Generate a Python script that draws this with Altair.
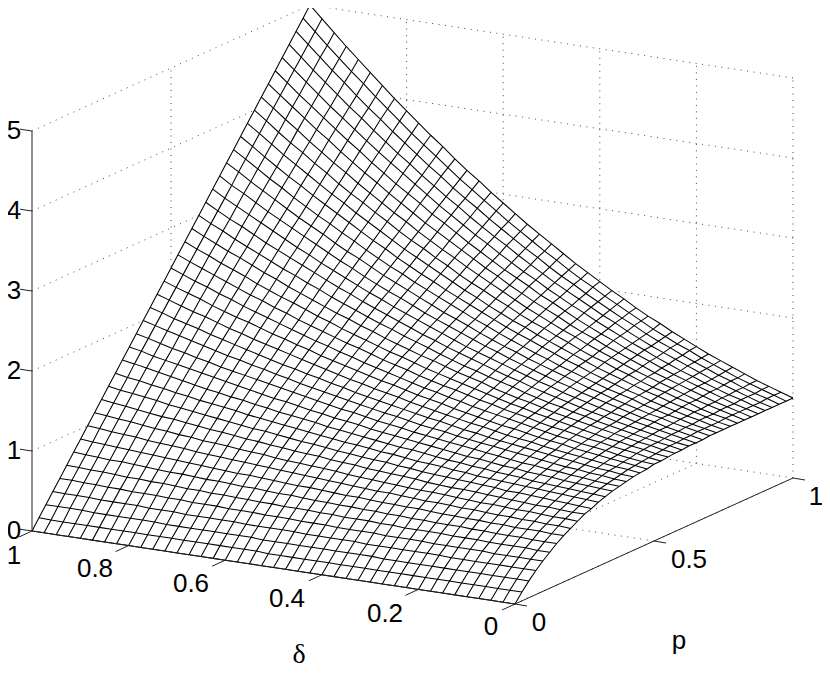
import altair as alt, pandas as pd

p_values=[0,.025,.05,.075,.1,.125,.15,.175,.2,.225,.25,.275,.3,.325,.35,.375,.4,.425,.45,.475,.5,.525,.55,.575,.6,.625,.65,.675,.7,.725,.75,.775,.8,.825,.85,.875,.9,.925,.95,.975,1]
delta_values=list(p_values)
# surface height: one row per delta, one value per p
z_rows=[
[0,.11,.21,.30,.38,.45,.52,.58,.63,.68,.73,.76,.80,.83,.86,.88,.90,.92,.93,.94,.96,.96,.97,.98,.98,.99,.99,.99,1,1,1,1,1,1,1,1,1,1,1,1,1],
[0,.11,.21,.30,.38,.45,.52,.58,.64,.69,.73,.77,.81,.84,.87,.89,.91,.93,.95,.96,.97,.98,.99,1.00,1.01,1.01,1.02,1.02,1.03,1.03,1.03,1.03,1.04,1.04,1.04,1.04,1.04,1.04,1.05,1.05,1.05],
[0,.11,.21,.30,.38,.46,.52,.59,.64,.69,.74,.78,.82,.85,.88,.90,.93,.95,.96,.98,.99,1.01,1.02,1.03,1.03,1.04,1.05,1.05,1.06,1.06,1.07,1.07,1.07,1.08,1.08,1.08,1.09,1.09,1.09,1.10,1.10],
[0,.11,.21,.30,.38,.46,.53,.59,.65,.70,.75,.79,.83,.86,.89,.92,.94,.96,.98,1.00,1.01,1.03,1.04,1.05,1.06,1.07,1.08,1.08,1.09,1.10,1.10,1.11,1.11,1.12,1.12,1.13,1.13,1.14,1.14,1.15,1.15],
[0,.11,.21,.30,.38,.46,.53,.59,.65,.71,.75,.80,.84,.87,.90,.93,.96,.98,1.00,1.02,1.04,1.05,1.07,1.08,1.09,1.10,1.11,1.12,1.13,1.13,1.14,1.15,1.16,1.16,1.17,1.18,1.18,1.19,1.20,1.20,1.21],
[0,.11,.21,.30,.39,.46,.53,.60,.66,.71,.76,.81,.85,.88,.92,.95,.97,1.00,1.02,1.04,1.06,1.08,1.09,1.11,1.12,1.13,1.14,1.15,1.16,1.17,1.18,1.19,1.20,1.21,1.22,1.23,1.23,1.24,1.25,1.26,1.27],
[0,.11,.21,.30,.39,.47,.54,.60,.66,.72,.77,.82,.86,.89,.93,.96,.99,1.02,1.04,1.06,1.08,1.10,1.12,1.14,1.15,1.16,1.18,1.19,1.20,1.21,1.22,1.24,1.25,1.26,1.27,1.28,1.29,1.30,1.31,1.32,1.33],
[0,.11,.21,.30,.39,.47,.54,.61,.67,.73,.78,.82,.87,.91,.94,.98,1.01,1.04,1.06,1.09,1.11,1.13,1.15,1.17,1.18,1.20,1.21,1.23,1.24,1.26,1.27,1.28,1.29,1.31,1.32,1.33,1.34,1.36,1.37,1.38,1.39],
[0,.11,.21,.31,.39,.47,.55,.61,.68,.73,.79,.84,.88,.92,.96,.99,1.03,1.06,1.08,1.11,1.13,1.16,1.18,1.20,1.22,1.23,1.25,1.27,1.28,1.30,1.31,1.33,1.34,1.36,1.37,1.39,1.40,1.42,1.43,1.45,1.46],
[0,.11,.21,.31,.39,.48,.55,.62,.68,.74,.80,.85,.89,.93,.97,1.01,1.05,1.08,1.11,1.13,1.16,1.18,1.21,1.23,1.25,1.27,1.29,1.31,1.33,1.34,1.36,1.38,1.40,1.41,1.43,1.45,1.46,1.48,1.50,1.51,1.53],
[0,.11,.21,.31,.40,.48,.55,.62,.69,.75,.81,.86,.90,.95,.99,1.03,1.07,1.10,1.13,1.16,1.19,1.21,1.24,1.26,1.29,1.31,1.33,1.35,1.37,1.39,1.41,1.43,1.45,1.47,1.49,1.51,1.53,1.54,1.56,1.58,1.60],
[0,.11,.21,.31,.40,.48,.56,.63,.70,.76,.81,.87,.92,.96,1.01,1.05,1.09,1.12,1.15,1.19,1.22,1.25,1.27,1.30,1.32,1.35,1.37,1.40,1.42,1.44,1.46,1.48,1.51,1.53,1.55,1.57,1.59,1.61,1.63,1.65,1.68],
[0,.11,.21,.31,.40,.48,.56,.64,.70,.77,.82,.88,.93,.98,1.02,1.07,1.11,1.14,1.18,1.21,1.25,1.28,1.31,1.34,1.36,1.39,1.42,1.44,1.47,1.49,1.52,1.54,1.56,1.59,1.61,1.64,1.66,1.68,1.71,1.73,1.75],
[0,.11,.22,.31,.40,.49,.57,.64,.71,.77,.83,.89,.95,.99,1.04,1.09,1.13,1.17,1.21,1.24,1.28,1.31,1.34,1.37,1.40,1.43,1.46,1.49,1.52,1.54,1.57,1.60,1.62,1.65,1.68,1.70,1.73,1.76,1.78,1.81,1.83],
[0,.11,.22,.31,.41,.49,.57,.65,.72,.78,.85,.90,.96,1.01,1.06,1.11,1.15,1.19,1.23,1.27,1.31,1.35,1.38,1.41,1.45,1.48,1.51,1.54,1.57,1.60,1.63,1.66,1.69,1.72,1.74,1.77,1.80,1.83,1.86,1.89,1.92],
[0,.11,.22,.32,.41,.50,.58,.65,.73,.79,.86,.92,.97,1.03,1.08,1.13,1.18,1.22,1.26,1.30,1.34,1.38,1.42,1.45,1.49,1.52,1.56,1.59,1.62,1.65,1.69,1.72,1.75,1.78,1.81,1.84,1.88,1.91,1.94,1.97,2.00],
[0,.11,.22,.32,.41,.50,.58,.66,.73,.80,.87,.93,.99,1.05,1.10,1.15,1.20,1.25,1.29,1.33,1.38,1.42,1.46,1.50,1.53,1.57,1.61,1.64,1.68,1.71,1.75,1.78,1.82,1.85,1.89,1.92,1.95,1.99,2.02,2.06,2.09],
[0,.11,.22,.32,.41,.50,.59,.67,.74,.81,.88,.95,1.01,1.06,1.12,1.17,1.22,1.27,1.32,1.37,1.41,1.46,1.50,1.54,1.58,1.62,1.66,1.70,1.73,1.77,1.81,1.85,1.88,1.92,1.96,2.00,2.03,2.07,2.11,2.14,2.18],
[0,.11,.22,.32,.42,.51,.59,.67,.75,.82,.89,.96,1.02,1.08,1.14,1.20,1.25,1.30,1.35,1.40,1.45,1.49,1.54,1.58,1.62,1.67,1.71,1.75,1.79,1.83,1.87,1.91,1.95,1.99,2.03,2.07,2.11,2.15,2.19,2.23,2.27],
[0,.11,.22,.32,.42,.51,.60,.68,.76,.83,.91,.97,1.04,1.10,1.16,1.22,1.28,1.33,1.38,1.43,1.48,1.53,1.58,1.63,1.67,1.72,1.76,1.81,1.85,1.90,1.94,1.98,2.03,2.07,2.11,2.16,2.20,2.24,2.28,2.33,2.37],
[0,.11,.22,.33,.42,.52,.60,.69,.77,.85,.92,.99,1.06,1.12,1.18,1.24,1.30,1.36,1.42,1.47,1.52,1.57,1.62,1.68,1.72,1.77,1.82,1.87,1.92,1.96,2.01,2.05,2.10,2.15,2.19,2.24,2.28,2.33,2.38,2.42,2.47],
[0,.11,.22,.33,.43,.52,.61,.70,.78,.86,.93,1.00,1.07,1.14,1.21,1.27,1.33,1.39,1.45,1.51,1.56,1.62,1.67,1.72,1.78,1.83,1.88,1.93,1.98,2.03,2.08,2.13,2.18,2.23,2.28,2.32,2.37,2.42,2.47,2.52,2.57],
[0,.12,.22,.33,.43,.52,.62,.70,.79,.87,.95,1.02,1.09,1.16,1.23,1.30,1.36,1.42,1.48,1.54,1.60,1.66,1.72,1.77,1.83,1.88,1.94,1.99,2.04,2.10,2.15,2.20,2.25,2.31,2.36,2.41,2.46,2.52,2.57,2.62,2.67],
[0,.12,.23,.33,.43,.53,.62,.71,.80,.88,.96,1.04,1.11,1.18,1.25,1.32,1.39,1.45,1.52,1.58,1.64,1.70,1.76,1.82,1.88,1.94,2.00,2.05,2.11,2.17,2.22,2.28,2.33,2.39,2.45,2.50,2.56,2.61,2.67,2.72,2.78],
[0,.12,.23,.33,.44,.53,.63,.72,.81,.89,.97,1.05,1.13,1.21,1.28,1.35,1.42,1.49,1.55,1.62,1.68,1.75,1.81,1.87,1.94,2.00,2.06,2.12,2.18,2.24,2.30,2.36,2.42,2.48,2.54,2.59,2.65,2.71,2.77,2.83,2.89],
[0,.12,.23,.34,.44,.54,.64,.73,.82,.90,.99,1.07,1.15,1.23,1.30,1.38,1.45,1.52,1.59,1.66,1.73,1.80,1.86,1.93,1.99,2.06,2.12,2.19,2.25,2.31,2.37,2.44,2.50,2.56,2.63,2.69,2.75,2.81,2.88,2.94,3.00],
[0,.12,.23,.34,.44,.54,.64,.74,.83,.92,1.00,1.09,1.17,1.25,1.33,1.41,1.48,1.56,1.63,1.70,1.77,1.84,1.91,1.98,2.05,2.12,2.19,2.25,2.32,2.39,2.45,2.52,2.59,2.65,2.72,2.79,2.85,2.92,2.98,3.05,3.12],
[0,.12,.23,.34,.45,.55,.65,.74,.84,.93,1.02,1.11,1.19,1.27,1.36,1.44,1.51,1.59,1.67,1.74,1.82,1.89,1.96,2.04,2.11,2.18,2.25,2.32,2.39,2.46,2.53,2.60,2.67,2.74,2.81,2.88,2.95,3.02,3.09,3.16,3.23],
[0,.12,.23,.34,.45,.55,.66,.75,.85,.94,1.03,1.12,1.21,1.30,1.38,1.47,1.55,1.63,1.71,1.79,1.86,1.94,2.02,2.09,2.17,2.25,2.32,2.39,2.47,2.54,2.62,2.69,2.76,2.84,2.91,2.99,3.06,3.13,3.21,3.28,3.35],
[0,.12,.23,.34,.45,.56,.66,.76,.86,.96,1.05,1.14,1.23,1.32,1.41,1.50,1.58,1.66,1.75,1.83,1.91,1.99,2.07,2.15,2.23,2.31,2.39,2.47,2.55,2.62,2.70,2.78,2.86,2.93,3.01,3.09,3.17,3.24,3.32,3.40,3.48],
[0,.12,.23,.35,.46,.56,.67,.77,.87,.97,1.07,1.16,1.26,1.35,1.44,1.53,1.62,1.70,1.79,1.88,1.96,2.04,2.13,2.21,2.30,2.38,2.46,2.54,2.62,2.71,2.79,2.87,2.95,3.03,3.11,3.19,3.28,3.36,3.44,3.52,3.60],
[0,.12,.24,.35,.46,.57,.68,.78,.88,.98,1.08,1.18,1.28,1.37,1.47,1.56,1.65,1.74,1.83,1.92,2.01,2.10,2.19,2.27,2.36,2.45,2.53,2.62,2.70,2.79,2.88,2.96,3.05,3.13,3.22,3.30,3.39,3.47,3.56,3.64,3.73],
[0,.12,.24,.35,.47,.58,.68,.79,.90,1.00,1.10,1.20,1.30,1.40,1.50,1.59,1.69,1.78,1.87,1.97,2.06,2.15,2.24,2.33,2.43,2.52,2.61,2.70,2.79,2.88,2.97,3.06,3.14,3.23,3.32,3.41,3.50,3.59,3.68,3.77,3.86],
[0,.12,.24,.36,.47,.58,.69,.80,.91,1.01,1.12,1.22,1.32,1.42,1.53,1.62,1.72,1.82,1.92,2.02,2.11,2.21,2.30,2.40,2.49,2.59,2.68,2.78,2.87,2.96,3.06,3.15,3.24,3.34,3.43,3.53,3.62,3.71,3.81,3.90,3.99],
[0,.12,.24,.36,.47,.59,.70,.81,.92,1.03,1.14,1.24,1.35,1.45,1.56,1.66,1.76,1.86,1.96,2.06,2.16,2.26,2.36,2.46,2.56,2.66,2.76,2.86,2.95,3.05,3.15,3.25,3.35,3.44,3.54,3.64,3.74,3.84,3.93,4.03,4.13],
[0,.12,.24,.36,.48,.59,.71,.82,.93,1.04,1.15,1.26,1.37,1.48,1.59,1.69,1.80,1.90,2.01,2.11,2.22,2.32,2.43,2.53,2.63,2.73,2.84,2.94,3.04,3.14,3.25,3.35,3.45,3.55,3.66,3.76,3.86,3.96,4.06,4.17,4.27],
[0,.12,.24,.36,.48,.60,.72,.83,.95,1.06,1.17,1.29,1.40,1.51,1.62,1.73,1.84,1.95,2.06,2.16,2.27,2.38,2.49,2.60,2.70,2.81,2.92,3.02,3.13,3.24,3.34,3.45,3.56,3.66,3.77,3.88,3.98,4.09,4.20,4.30,4.41],
[0,.12,.25,.37,.49,.61,.72,.84,.96,1.08,1.19,1.31,1.42,1.54,1.65,1.76,1.88,1.99,2.10,2.22,2.33,2.44,2.55,2.66,2.77,2.89,3.00,3.11,3.22,3.33,3.44,3.55,3.66,3.78,3.89,4.00,4.11,4.22,4.33,4.44,4.55],
[0,.12,.25,.37,.49,.61,.73,.85,.97,1.09,1.21,1.33,1.45,1.57,1.68,1.80,1.92,2.03,2.15,2.27,2.38,2.50,2.62,2.73,2.85,2.96,3.08,3.20,3.31,3.43,3.54,3.66,3.77,3.89,4.01,4.12,4.24,4.35,4.47,4.58,4.70],
[0,.12,.25,.37,.50,.62,.74,.86,.99,1.11,1.23,1.35,1.47,1.60,1.72,1.84,1.96,2.08,2.20,2.32,2.44,2.56,2.68,2.80,2.92,3.04,3.16,3.28,3.41,3.53,3.65,3.77,3.89,4.01,4.13,4.25,4.37,4.49,4.61,4.73,4.85],
[0,.125,.25,.375,.50,.625,.75,.875,1.00,1.125,1.25,1.375,1.50,1.625,1.75,1.875,2.00,2.125,2.25,2.375,2.50,2.625,2.75,2.875,3.00,3.125,3.25,3.375,3.50,3.625,3.75,3.875,4.00,4.125,4.25,4.375,4.50,4.625,4.75,4.875,5.00],
]
z_ticks=[0,1,2,3,4,5]
delta_ticks=[1,.8,.6,.4,.2,0]
p_ticks=[0,.5,1]

def X(p,d): return 515+278*p-483*d
def Y(p,d,z=0): return 604-126*p-73*d-80*z
def P(p,d,z=0): return (X(p,d),Y(p,d,z))

xs=alt.Scale(domain=[8,822],nice=False,zero=False)
ys=alt.Scale(domain=[669,8],nice=False,zero=False)
def L(rows,**kw):
    df=pd.DataFrame(rows,columns=['id','o','x','y'])
    return alt.Chart(df).mark_line(**kw).encode(x=alt.X('x:Q',scale=xs,axis=None),y=alt.Y('y:Q',scale=ys,axis=None),detail='id:N',order='o:Q')
def seg(i,a,b): return [(i,0,a[0],a[1]),(i,1,b[0],b[1])]

grid=[];n=0
for k in z_ticks[1:]:
    grid+=seg(n,P(0,1,k),P(1,1,k));n+=1
    grid+=seg(n,P(1,1,k),P(1,0,k));n+=1
for p in p_ticks[1:]:
    grid+=seg(n,P(p,1,0),P(p,1,5));n+=1
for d in delta_ticks[1:]:
    grid+=seg(n,P(1,d,0),P(1,d,5));n+=1
    grid+=seg(n,P(0,d,0),P(1,d,0));n+=1
grid+=seg(n,P(.5,0),P(.5,1));n+=1
grid+=seg(n,P(1,0),P(1,1));n+=1

sil=[];o=0
for i,p in enumerate(p_values): sil.append((0,o,X(p,1),Y(p,1,z_rows[-1][i])));o+=1
for j in range(len(delta_values)-1,-1,-1):
    d=delta_values[j];sil.append((0,o,X(1,d),Y(1,d,z_rows[j][-1])));o+=1
for i in range(len(p_values)-1,-1,-1):
    p=p_values[i];sil.append((0,o,X(p,0),Y(p,0,z_rows[0][i])));o+=1
for j,d in enumerate(delta_values): sil.append((0,o,X(0,d),Y(0,d,z_rows[j][0])));o+=1

mesh=[];n=0
for j,d in enumerate(delta_values):
    for i,p in enumerate(p_values): mesh.append((n,i,X(p,d),Y(p,d,z_rows[j][i])))
    n+=1
for i,p in enumerate(p_values):
    for j,d in enumerate(delta_values): mesh.append((n,j,X(p,d),Y(p,d,z_rows[j][i])))
    n+=1

ax=[];n=0
ax+=seg(n,P(0,1,0),P(0,1,5));n+=1
ax+=seg(n,P(0,0),P(1,0));n+=1
ax+=seg(n,P(0,0),P(0,1));n+=1
for k in z_ticks:
    a=P(0,1,k);ax+=seg(n,a,(a[0]-12,a[1]-1.8));n+=1
for d in delta_ticks:
    a=P(0,d);ax+=seg(n,a,(a[0]-13,a[1]+6));n+=1
for p in p_ticks:
    a=P(p,0);ax+=seg(n,a,(a[0]+12,a[1]+2));n+=1

labels=['0','1','2','3','4','5','1','0.8','0.6','0.4','0.2','0','0','0.5','1','p']
label_x=[14,14,14,14,14,14,14,95,191,287,385,491,539,689,816,679]
label_y=[531,451,371,291,211,131,556,569,584,599,614,627,623,560,497,641]
labs=pd.DataFrame({'t':labels,'x':label_x,'y':label_y})
T=alt.Chart(labs).mark_text(font='Liberation Sans',fontSize=26,color='black',baseline='middle').encode(x=alt.X('x:Q',scale=xs,axis=None),y=alt.Y('y:Q',scale=ys,axis=None),text='t:N')
D=alt.Chart(pd.DataFrame({'t':['δ'],'x':[299],'y':[655]})).mark_text(font='Liberation Serif',fontSize=28,color='black',baseline='middle').encode(x=alt.X('x:Q',scale=xs,axis=None),y=alt.Y('y:Q',scale=ys,axis=None),text='t:N')

chart=alt.layer(
    L(grid,stroke='#333',strokeWidth=0.9,strokeDash=[1,5.5]),
    L(sil,fill='white',stroke='white',strokeWidth=0.5),
    L(mesh,stroke='black',strokeWidth=1.05),
    L(ax,stroke='#222',strokeWidth=1),
    T,D
).properties(width=814,height=661,padding=0,autosize=alt.AutoSizeParams(type='none')).configure_view(stroke=None)
chart.save("out.html",embed_options={"renderer":"svg","actions":False})
